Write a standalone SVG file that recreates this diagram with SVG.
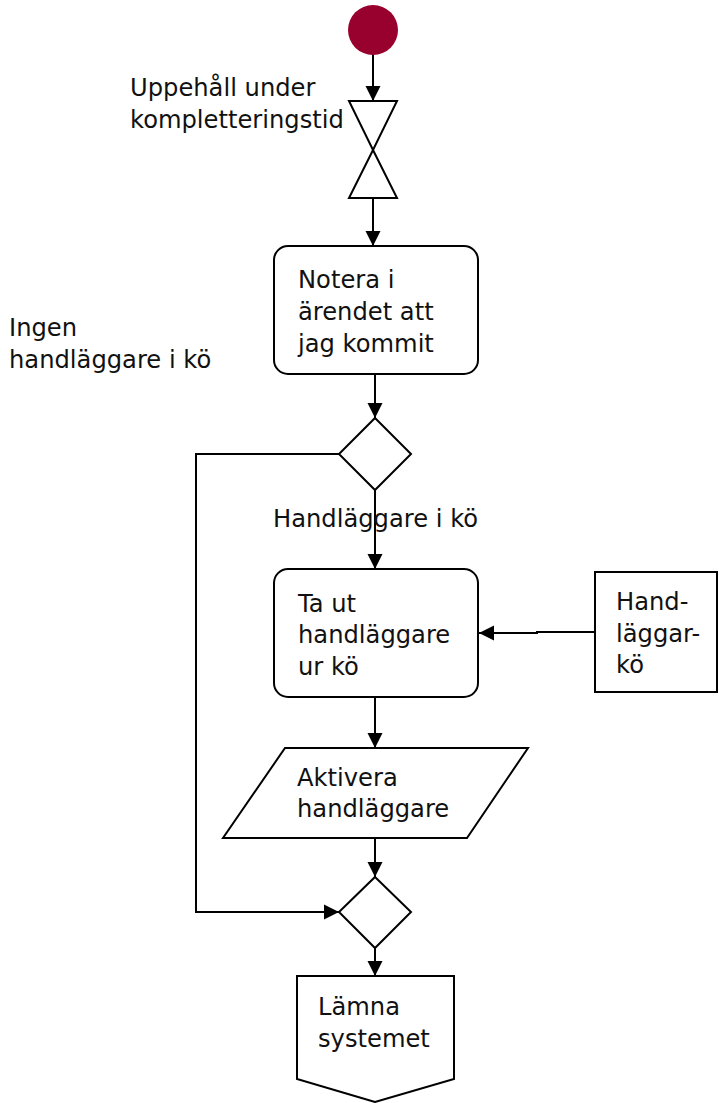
<svg xmlns="http://www.w3.org/2000/svg" width="719" height="1103" viewBox="0 0 719 1103">
  <style>
    .shape { fill: #ffffff; stroke: #000000; stroke-width: 2; }
    .edge { fill: none; stroke: #000000; stroke-width: 2; }
    text { font-family: "DejaVu Sans", Verdana, sans-serif; font-size: 24.2px; fill: #111111; }
  </style>
  <defs>
    <marker id="arrow" markerUnits="userSpaceOnUse" markerWidth="16" markerHeight="16" viewBox="0 0 16 16" refX="15" refY="8" orient="auto">
      <path d="M0,0.5 L15,8 L0,15.5 Z" fill="#000000"/>
    </marker>
  </defs>

  <!-- connectors -->
  <g id="connectors">
    <path class="edge" d="M373,54 V101" marker-end="url(#arrow)"/>
    <path class="edge" d="M373,198 V246" marker-end="url(#arrow)"/>
    <path class="edge" d="M375,374 V418" marker-end="url(#arrow)"/>
    <path class="edge" d="M375,490 V569" marker-end="url(#arrow)"/>
    <path class="edge" d="M339,454 H196 V912 H339" marker-end="url(#arrow)"/>
    <path class="edge" d="M595,632 H537 V633 H479" marker-end="url(#arrow)"/>
    <path class="edge" d="M375,697 V748" marker-end="url(#arrow)"/>
    <path class="edge" d="M375,838 V877" marker-end="url(#arrow)"/>
    <path class="edge" d="M375,948 V976" marker-end="url(#arrow)"/>
  </g>

  <!-- start -->
  <g id="start">
    <circle cx="373" cy="30" r="25" fill="#98002e"/>
  </g>

  <!-- wait: hourglass -->
  <g id="wait">
    <path class="shape" d="M349,101 H397 L373,150 Z"/>
    <path class="shape" d="M373,150 L397,198 H349 Z"/>
    <text x="130" y="96">Uppehåll under</text>
    <text x="130" y="128">kompletteringstid</text>
  </g>

  <g id="note">
    <rect class="shape" x="274" y="246" width="204" height="128" rx="14"/>
    <text x="298" y="288">Notera i</text>
    <text x="298" y="320">ärendet att</text>
    <text x="298" y="352">jag kommit</text>
  </g>

  <g id="decision1">
    <path class="shape" d="M375,418 L411,454 L375,490 L339,454 Z"/>
    <text x="9" y="336">Ingen</text>
    <text x="9" y="368">handläggare i kö</text>
    <text x="273" y="527">Handläggare i kö</text>
  </g>

  <g id="dequeue">
    <rect class="shape" x="274" y="569" width="204" height="128" rx="14"/>
    <text x="298" y="612">Ta ut</text>
    <text x="298" y="643">handläggare</text>
    <text x="298" y="675">ur kö</text>
  </g>

  <g id="queue">
    <rect class="shape" x="595" y="572" width="122" height="120"/>
    <text x="616" y="610">Hand-</text>
    <text x="616" y="642">läggar-</text>
    <text x="616" y="673">kö</text>
  </g>

  <g id="activate">
    <path class="shape" d="M285,748 H528 L467,838 H223 Z"/>
    <text x="297" y="786">Aktivera</text>
    <text x="297" y="817">handläggare</text>
  </g>

  <g id="decision2">
    <path class="shape" d="M375,877 L411,912 L375,948 L339,912 Z"/>
  </g>

  <g id="exit">
    <path class="shape" d="M297,976 H454 V1079 L375,1102 L297,1079 Z"/>
    <text x="318" y="1015">Lämna</text>
    <text x="318" y="1047">systemet</text>
  </g>
</svg>
